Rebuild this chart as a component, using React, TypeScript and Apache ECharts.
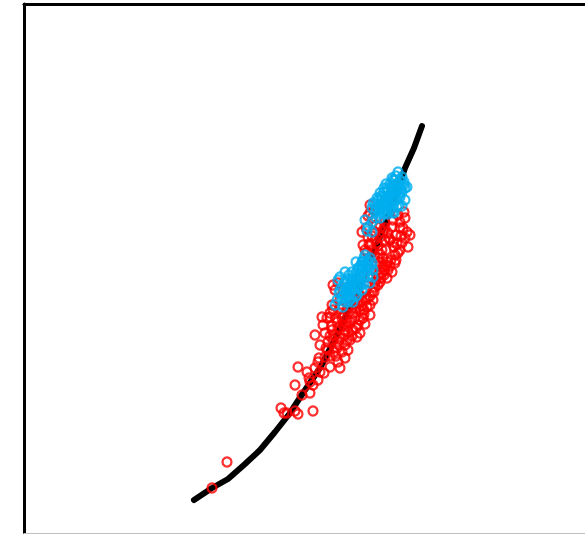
import React, { useEffect, useRef } from "react";
import * as echarts from "echarts";

// Fitted curve (x, y) in chart units (y grows downward on this inverted axis)
const curveX = [194, 212, 228, 245, 260, 275, 290, 303, 320, 332, 345, 358, 370, 382, 394, 405, 414, 422];
const curveY = [500, 488, 479, 464, 450, 432, 413, 393, 368, 345, 318, 290, 262, 232, 200, 168, 148, 126];

// Red group observations
const redPts: number[][] = [
  [212, 488], [227, 462], [281, 408], [284, 413], [287, 413], [295, 411], [298, 414], [313, 411],
  [302, 395], [310, 393], [295, 385], [313, 385], [298, 367], [309, 378], [307, 372], [315, 368],
  [320, 372], [324, 373], [319, 358], [320, 345], [325, 357], [330, 367], [340, 368], [338, 362],
  [345, 358], [342, 352], [348, 350], [337, 348], [328, 342], [315, 335], [325, 333], [332, 330],
  [323, 325], [330, 317], [322, 317], [340, 338], [347, 340], [348, 332], [343, 325], [353, 330],
  [360, 333], [358, 325], [363, 318], [353, 313], [347, 310], [340, 313], [360, 310], [367, 307],
  [337, 322], [333, 310], [327, 318], [330, 313], [335, 290], [333, 285], [338, 283], [335, 335],
  [338, 328], [345, 335], [350, 322], [355, 318], [342, 318], [350, 340], [345, 345], [333, 340],
  [338, 342], [362, 300], [368, 298], [372, 292], [375, 287], [370, 305], [364, 310], [356, 308],
  [350, 306], [376, 280], [380, 282], [375, 283], [383, 267], [382, 273], [387, 262], [385, 270],
  [378, 275], [365, 250], [363, 245], [370, 245], [372, 250], [370, 258], [368, 237], [377, 243],
  [380, 237], [385, 240], [388, 233], [392, 227], [393, 220], [380, 227], [375, 232], [370, 213],
  [370, 205], [367, 270], [370, 278], [366, 228], [362, 232], [405, 218], [407, 232], [398, 215],
  [402, 243], [398, 253], [395, 263], [392, 272], [387, 278], [408, 247], [400, 250], [395, 255],
  [390, 266], [396, 260], [405, 238], [400, 228], [396, 235], [393, 242], [374, 210], [385, 222],
  [400, 222], [410, 235], [404, 212], [382, 250], [378, 258], [376, 265], [360, 295], [355, 300],
  [328, 350], [318, 362], [310, 382], [318, 380], [340, 300], [332, 305], [352, 320], [357, 337],
  [365, 324], [370, 315], [373, 300], [366, 290], [372, 270], [380, 262], [386, 250], [390, 240],
  [332, 326], [336, 318], [340, 308], [344, 316], [348, 326], [352, 336], [356, 328], [360, 320],
  [364, 314], [344, 330], [339, 345], [334, 352], [330, 356], [326, 348], [336, 356], [330, 336],
  [346, 322], [352, 308], [358, 303], [362, 306], [366, 300], [370, 296], [374, 292], [378, 285],
  [381, 278], [384, 275], [386, 265], [388, 270], [391, 260], [394, 247], [397, 244], [401, 236],
  [403, 228], [383, 232], [378, 246], [375, 240], [372, 236], [369, 244], [367, 252], [368, 216],
  [372, 218], [376, 225], [385, 228], [389, 238], [380, 254], [374, 256], [383, 258],
];

// Blue group observations
const bluePts: number[][] = [
  [398, 172], [402, 177], [404, 185], [407, 187], [401, 190], [395, 180], [392, 186], [388, 190],
  [384, 188], [380, 193], [382, 198], [377, 198], [373, 203], [376, 208], [380, 212], [386, 210],
  [390, 205], [395, 200], [400, 197], [405, 200], [399, 205], [393, 212], [388, 214], [384, 204],
  [390, 195], [396, 190], [386, 198], [378, 205], [365, 220], [368, 227], [372, 232], [367, 231],
  [372, 222], [376, 218], [380, 218], [394, 213], [402, 206], [398, 184], [392, 178], [386, 184],
  [379, 208], [382, 204], [385, 200], [388, 196], [391, 192], [394, 188], [397, 184], [400, 180],
  [383, 210], [386, 206], [389, 202], [392, 198], [395, 194], [398, 190], [401, 186], [404, 182],
  [375, 204], [378, 200], [381, 196], [384, 192], [387, 188], [390, 184], [393, 180], [396, 176],
  [387, 212], [390, 208], [393, 204], [396, 200], [399, 196], [402, 192], [405, 188],
  [372, 208], [375, 212], [379, 214], [384, 214], [391, 210], [397, 207],
  [365, 255], [368, 260], [372, 263], [362, 262], [358, 268], [352, 272], [345, 272], [340, 277],
  [338, 280], [345, 282], [352, 280], [358, 278], [365, 272], [373, 270], [373, 277], [370, 283],
  [364, 284], [358, 288], [352, 290], [346, 292], [342, 298], [337, 300], [345, 302], [350, 300],
  [353, 302], [343, 307], [335, 305], [362, 290], [357, 295], [348, 296], [355, 285], [360, 278],
  [366, 266], [362, 270], [368, 276], [350, 286], [340, 290], [356, 262], [370, 258], [364, 258],
  [347, 297], [350, 292], [352, 288], [355, 283], [357, 279], [360, 274], [362, 270], [365, 265],
  [367, 262], [351, 298], [354, 294], [356, 289], [359, 285], [361, 280], [364, 276], [366, 271],
  [369, 267], [343, 296], [346, 291], [348, 287], [351, 282], [353, 278], [356, 273], [358, 269],
  [361, 265], [363, 261], [339, 293], [342, 288], [344, 284], [347, 279], [349, 275], [368, 270],
  [371, 266], [348, 302], [356, 296], [360, 286],
];

const X_MIN = 24;
const X_MAX = 585;
const Y_MIN = 4;
const Y_MAX = 533;

export default function App() {
  const ref = useRef<HTMLDivElement>(null);
  useEffect(() => {
    if (!ref.current) return;
    const chart = echarts.init(ref.current, undefined, { renderer: "svg" });
    chart.setOption({
      animation: false,
      backgroundColor: "#ffffff",
      grid: { left: 24, top: 4, right: 0, bottom: 1 },
      xAxis: [
        {
          type: "value",
          position: "top",
          min: X_MIN,
          max: X_MAX,
          axisLine: { show: true, onZero: false, lineStyle: { color: "#000", width: 3 } },
          axisTick: { show: false },
          axisLabel: { show: false },
          splitLine: { show: false },
        },
        {
          type: "value",
          position: "bottom",
          min: X_MIN,
          max: X_MAX,
          axisLine: { show: true, onZero: false, lineStyle: { color: "#c0c0c0", width: 1 } },
          axisTick: { show: false },
          axisLabel: { show: false },
          splitLine: { show: false },
        },
      ],
      yAxis: {
        type: "value",
        inverse: true,
        min: Y_MIN,
        max: Y_MAX,
        axisLine: { show: true, onZero: false, lineStyle: { color: "#000", width: 3 } },
        axisTick: { show: false },
        axisLabel: { show: false },
        splitLine: { show: false },
      },
      series: [
        {
          type: "line",
          data: curveX.map((x, i) => [x, curveY[i]]),
          showSymbol: false,
          symbol: "none",
          lineStyle: { color: "#000", width: 6, cap: "round", join: "round" },
          z: 1,
        },
        {
          type: "scatter",
          data: redPts,
          symbol: "circle",
          symbolSize: 9,
          itemStyle: { color: "rgba(0,0,0,0)", borderColor: "#ff0000", borderWidth: 2.3 },
          z: 2,
        },
        {
          type: "scatter",
          data: bluePts,
          symbol: "circle",
          symbolSize: 9,
          itemStyle: { color: "rgba(0,0,0,0)", borderColor: "#00aeef", borderWidth: 2.3 },
          z: 3,
        },
      ],
    });
    return () => chart.dispose();
  }, []);
  return (
    <div
      ref={ref}
      style={{ position: "fixed", left: 0, top: 0, width: 585, height: 534, background: "#fff" }}
    />
  );
}
